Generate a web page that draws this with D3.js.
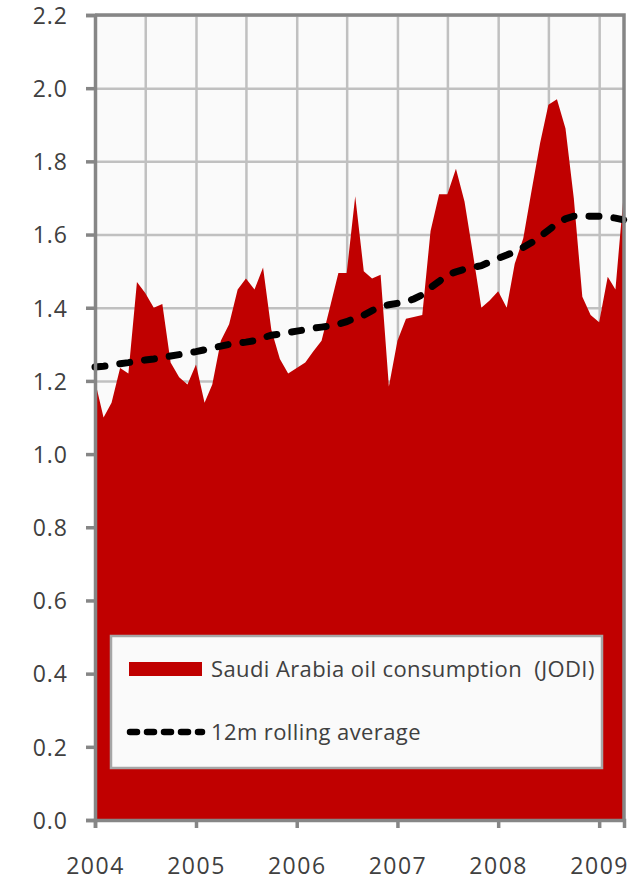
<!DOCTYPE html>
<html>
<head>
<meta charset="utf-8">
<script src="https://cdn.jsdelivr.net/npm/d3@7"></script>
<style>
  body { margin: 0; background: #ffffff; }
  text { font-family: "Open Sans", sans-serif; fill: #404040; }
</style>
</head>
<body>
<script>
// monthly values, Jan 2004 .. Apr 2009 (mb/d)
var consumption = [
    1.20, 1.10, 1.14, 1.235, 1.22, 1.47, 1.44, 1.40, 1.41, 1.25, 1.21, 1.19,
    1.245, 1.14, 1.19, 1.31, 1.355, 1.45, 1.48, 1.45, 1.51, 1.34, 1.26, 1.22,
    1.235, 1.25, 1.28, 1.31, 1.40, 1.495, 1.495, 1.705, 1.50, 1.48, 1.49, 1.185,
    1.31, 1.37, 1.375, 1.38, 1.61, 1.71, 1.71, 1.78, 1.69, 1.55, 1.40, 1.42,
    1.445, 1.40, 1.52, 1.59, 1.72, 1.85, 1.955, 1.97, 1.89, 1.70, 1.43, 1.38,
    1.36, 1.485, 1.45, 1.72
];
var rollingAvg = [
    1.238, 1.240, 1.243, 1.247, 1.250, 1.254, 1.257, 1.260, 1.264, 1.268, 1.272, 1.276,
    1.280, 1.285, 1.290, 1.295, 1.300, 1.303, 1.306, 1.310, 1.318, 1.325, 1.328, 1.332,
    1.336, 1.340, 1.344, 1.347, 1.350, 1.355, 1.362, 1.372, 1.380, 1.392, 1.403, 1.408,
    1.412, 1.416, 1.424, 1.435, 1.455, 1.472, 1.490, 1.498, 1.505, 1.510, 1.515, 1.525,
    1.535, 1.544, 1.553, 1.565, 1.578, 1.594, 1.612, 1.630, 1.643, 1.650, 1.651, 1.650,
    1.650, 1.648, 1.645, 1.640
];
var yTicks = [0, 0.2, 0.4, 0.6, 0.8, 1.0, 1.2, 1.4, 1.6, 1.8, 2.0, 2.2];
var xTickYears = [2004, 2005, 2006, 2007, 2008, 2009];
var seriesLabels = ["Saudi Arabia oil consumption  (JODI)", "12m rolling average"];

var width = 640, height = 882;
var plot = { left: 95, right: 624, top: 15, bottom: 820 };
var axisGrey = "#868686", gridGrey = "#c0c0c0", red = "#c00000";

var start = new Date(2004, 0, 1);
var months = consumption.map(function(d, i) { return d3.timeMonth.offset(start, i); });

var svg = d3.select("body").append("svg")
    .attr("width", width)
    .attr("height", height);

var x = d3.scaleTime()
    .domain([start, months[months.length - 1]])
    .range([plot.left, plot.right]);
var y = d3.scaleLinear()
    .domain([0, 2.2])
    .range([plot.bottom, plot.top]);

// plot background
svg.append("rect")
    .attr("x", plot.left).attr("y", plot.top)
    .attr("width", plot.right - plot.left)
    .attr("height", plot.bottom - plot.top)
    .attr("fill", "#fafafa");

// gridlines: every 0.2 and every 6 months
svg.append("g")
    .attr("transform", "translate(0," + plot.bottom + ")")
    .call(d3.axisBottom(x).ticks(d3.timeMonth.every(6))
        .tickSize(-(plot.bottom - plot.top)).tickFormat(""))
    .call(function(g) { g.select(".domain").remove(); })
    .selectAll("line").attr("stroke", gridGrey).attr("stroke-width", 2.5);

svg.append("g")
    .attr("transform", "translate(" + plot.left + ",0)")
    .call(d3.axisLeft(y).tickValues(yTicks)
        .tickSize(-(plot.right - plot.left)).tickFormat(""))
    .call(function(g) { g.select(".domain").remove(); })
    .selectAll("line").attr("stroke", gridGrey).attr("stroke-width", 2.5);

// consumption area
var area = d3.area()
    .x(function(d, i) { return x(months[i]); })
    .y0(y(0))
    .y1(function(d) { return y(d); });

svg.append("path")
    .datum(consumption)
    .attr("fill", red)
    .attr("d", area);

// rolling average
var line = d3.line()
    .x(function(d, i) { return x(months[i]); })
    .y(function(d) { return y(d); });

svg.append("path")
    .datum(rollingAvg)
    .attr("fill", "none")
    .attr("stroke", "#000")
    .attr("stroke-width", 7)
    .attr("stroke-linecap", "round")
    .attr("stroke-dasharray", "10,15")
    .attr("d", line);

// frame: top and right border
svg.append("path")
    .attr("fill", "none")
    .attr("stroke", axisGrey)
    .attr("stroke-width", 3.5)
    .attr("d", "M" + plot.left + "," + plot.top + "H" + plot.right + "V" + plot.bottom);

// y axis
var yAxis = svg.append("g")
    .attr("transform", "translate(" + plot.left + ",0)")
    .call(d3.axisLeft(y).tickValues(yTicks).tickSize(9).tickPadding(18)
        .tickFormat(d3.format(".1f")));
yAxis.select(".domain").attr("stroke", axisGrey).attr("stroke-width", 3.5);
yAxis.selectAll("line").attr("stroke", axisGrey).attr("stroke-width", 3.5);
yAxis.selectAll("text")
    .attr("dy", "0.36em")
    .style("font-size", "23px")
    .style("letter-spacing", "1px")
    .attr("fill", "#404040");

// x axis
var xAxis = svg.append("g")
    .attr("transform", "translate(0," + plot.bottom + ")")
    .call(d3.axisBottom(x)
        .tickValues(xTickYears.map(function(yr) { return new Date(yr, 0, 1); }))
        .tickSize(8).tickPadding(30)
        .tickFormat(d3.timeFormat("%Y")));
xAxis.select(".domain").attr("stroke", axisGrey).attr("stroke-width", 3.5);
xAxis.selectAll("line").attr("stroke", axisGrey).attr("stroke-width", 3.5);
xAxis.selectAll("text")
    .style("font-size", "23px")
    .style("letter-spacing", "1.5px")
    .attr("fill", "#404040");

// legend
var legend = svg.append("g");
legend.append("rect")
    .attr("x", 111).attr("y", 636)
    .attr("width", 491).attr("height", 132)
    .attr("fill", "#fafafa")
    .attr("stroke", "#a6a6a6")
    .attr("stroke-width", 2.5);

legend.append("rect")
    .attr("x", 129).attr("y", 662)
    .attr("width", 73).attr("height", 14)
    .attr("fill", red);

legend.append("line")
    .attr("x1", 130).attr("x2", 202)
    .attr("y1", 732).attr("y2", 732)
    .attr("stroke", "#000")
    .attr("stroke-width", 6.5)
    .attr("stroke-linecap", "round")
    .attr("stroke-dasharray", "7,10");

legend.selectAll("text.lbl")
    .data(seriesLabels)
    .enter().append("text")
    .attr("class", "lbl")
    .attr("x", 211)
    .attr("y", function(d, i) { return i === 0 ? 669 : 732; })
    .attr("dy", "0.35em")
    .style("font-size", "22px")
    .style("letter-spacing", "0.4px")
    .style("white-space", "pre")
    .text(function(d) { return d; });
</script>
</body>
</html>
